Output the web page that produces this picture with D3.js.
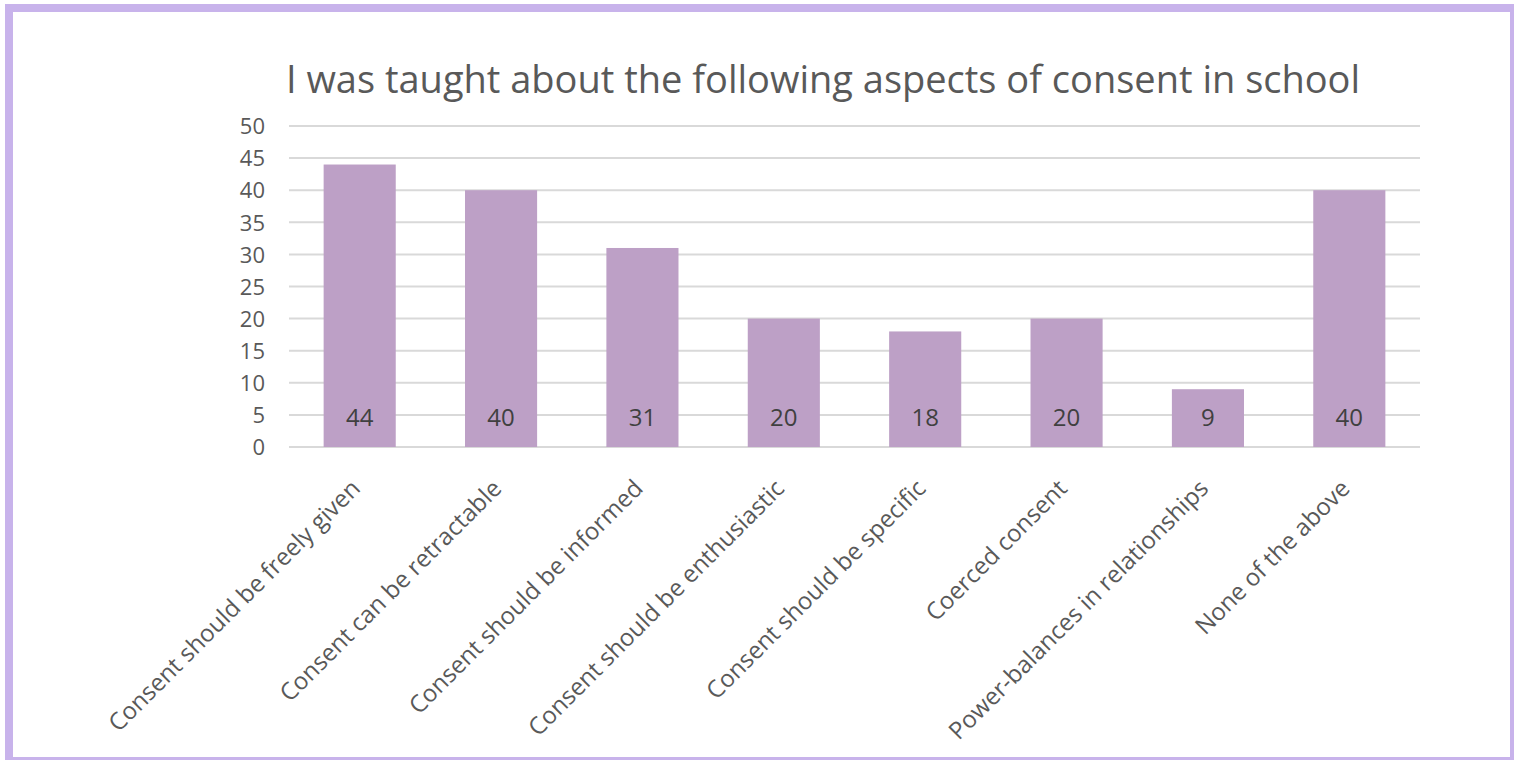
<!DOCTYPE html>
<html>
<head>
<meta charset="utf-8">
<script src="https://cdn.jsdelivr.net/npm/d3@7"></script>
<style>
  html, body { margin: 0; padding: 0; background: #ffffff; }
  svg { display: block; }
  text { font-family: "Open Sans", "Liberation Sans", sans-serif; }
</style>
</head>
<body>
<svg id="chart" width="1514" height="760"></svg>
<script>
const title = "I was taught about the following aspects of consent in school";
const categories = [
  "Consent should be freely given",
  "Consent can be retractable",
  "Consent should be informed",
  "Consent should be enthusiastic",
  "Consent should be specific",
  "Coerced consent",
  "Power-balances in relationships",
  "None of the above"
];
const values = [44, 40, 31, 20, 18, 20, 9, 40];
const yTicks = [0, 5, 10, 15, 20, 25, 30, 35, 40, 45, 50];

const svg = d3.select("#chart");
const W = 1514, H = 760;
const plot = { left: 289, right: 1420, top: 126, bottom: 447 };

// frame
svg.append("rect")
  .attr("x", 9).attr("y", 8)
  .attr("width", W - 9).attr("height", H - 7)
  .attr("fill", "none")
  .attr("stroke", "#c8b3eb")
  .attr("stroke-width", 8);

const x = d3.scaleBand().domain(categories).range([plot.left, plot.right]).paddingInner(0.49).paddingOuter(0.245);
const y = d3.scaleLinear().domain([0, 50]).range([plot.bottom, plot.top]);

// title
svg.append("text")
  .attr("x", 823).attr("y", 93)
  .attr("text-anchor", "middle")
  .attr("fill", "#595959")
  .style("font-size", "38px")
  .text(title);

// gridlines
svg.append("g")
  .selectAll("line")
  .data(yTicks)
  .join("line")
  .attr("x1", plot.left).attr("x2", plot.right)
  .attr("y1", d => y(d)).attr("y2", d => y(d))
  .attr("stroke", "#d9d9d9")
  .attr("stroke-width", 2);

// y axis labels
const yAxis = d3.axisLeft(y).tickValues(yTicks).tickSize(0).tickPadding(0);
const gy = svg.append("g").attr("transform", `translate(${plot.left - 24},0)`).call(yAxis);
gy.select(".domain").remove();
gy.selectAll("text")
  .attr("fill", "#595959")
  .style("font-size", "22px")
  .style("font-family", "'Open Sans', sans-serif")
  .attr("dy", "0.35em");

// bars
svg.append("g")
  .selectAll("rect")
  .data(values)
  .join("rect")
  .attr("x", (d, i) => x(categories[i]))
  .attr("width", x.bandwidth())
  .attr("y", d => y(d))
  .attr("height", d => y(0) - y(d))
  .attr("fill", "#bda0c6");

// value labels
svg.append("g")
  .selectAll("text")
  .data(values)
  .join("text")
  .attr("x", (d, i) => x(categories[i]) + x.bandwidth() / 2)
  .attr("y", y(0) - 21)
  .attr("text-anchor", "middle")
  .attr("fill", "#404040")
  .style("font-size", "24px")
  .text(d => d);

// x axis category labels
const xAxis = d3.axisBottom(x).tickSize(0).tickPadding(0);
const gx = svg.append("g").attr("transform", `translate(0,${plot.bottom})`).call(xAxis);
gx.select(".domain").remove();
gx.selectAll("text")
  .attr("fill", "#595959")
  .style("font-size", "24px")
  .style("font-family", "'Open Sans', sans-serif")
  .attr("text-anchor", "end")
  .attr("dy", "0.35em")
  .attr("transform", "translate(-4,37) rotate(-45)");
</script>
</body>
</html>
